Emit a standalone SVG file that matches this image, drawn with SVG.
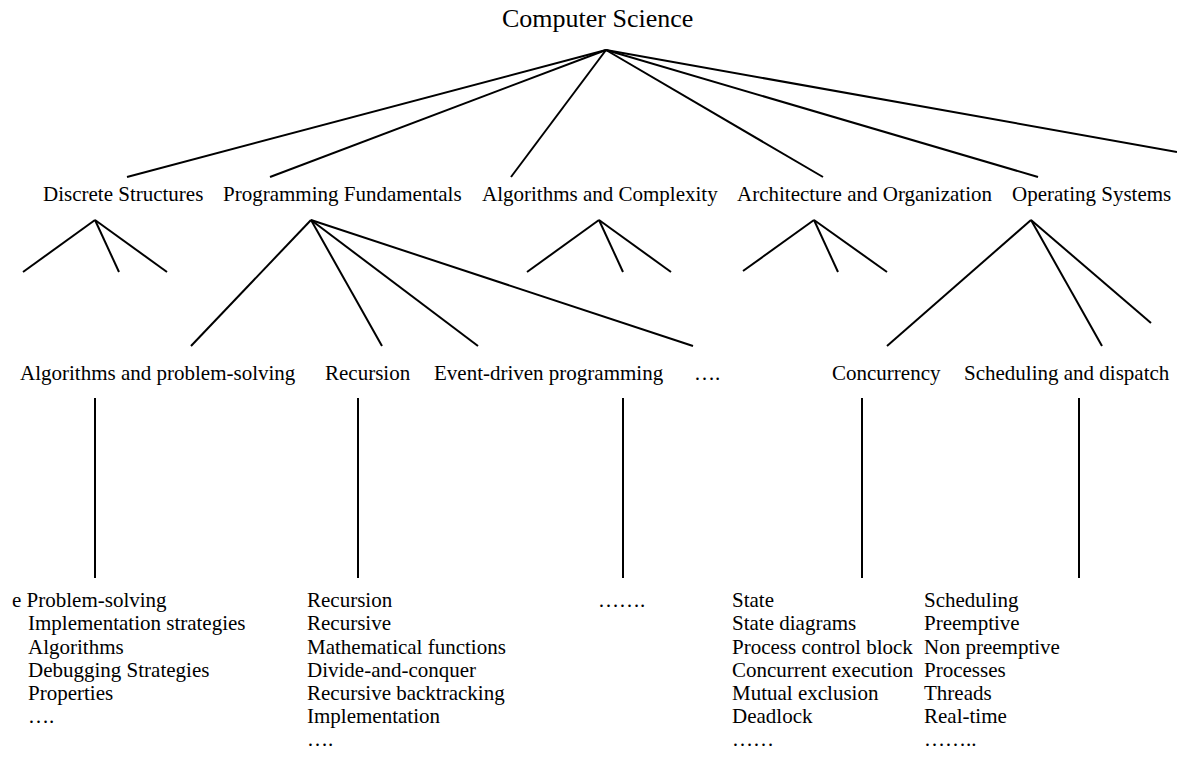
<svg xmlns="http://www.w3.org/2000/svg" width="1177" height="757" viewBox="0 0 1177 757">
<style>
text{font-family:"Liberation Serif","Times New Roman",serif;font-size:21px;fill:#000}
.title{font-size:26px}
line{stroke:#000;stroke-width:2;stroke-linecap:butt}
</style>
<rect width="1177" height="757" fill="#fff"/>
<g id="connectors">
<line x1="606" y1="50" x2="127" y2="177"/>
<line x1="606" y1="50" x2="270" y2="177"/>
<line x1="606" y1="50" x2="511" y2="177"/>
<line x1="606" y1="50" x2="823" y2="177"/>
<line x1="606" y1="50" x2="1038" y2="177"/>
<line x1="606" y1="50" x2="1177" y2="152"/>
<line x1="95" y1="220" x2="23" y2="272"/>
<line x1="95" y1="220" x2="119" y2="272"/>
<line x1="95" y1="220" x2="167" y2="272"/>
<line x1="311" y1="220" x2="191" y2="346"/>
<line x1="311" y1="220" x2="382" y2="346"/>
<line x1="311" y1="220" x2="478" y2="346"/>
<line x1="311" y1="220" x2="693" y2="346"/>
<line x1="599" y1="220" x2="527" y2="272"/>
<line x1="599" y1="220" x2="623" y2="272"/>
<line x1="599" y1="220" x2="671" y2="272"/>
<line x1="814" y1="220" x2="743" y2="271"/>
<line x1="814" y1="220" x2="838" y2="272"/>
<line x1="814" y1="220" x2="887" y2="272"/>
<line x1="1031" y1="220" x2="887" y2="346"/>
<line x1="1031" y1="220" x2="1102" y2="346"/>
<line x1="1031" y1="220" x2="1151" y2="323"/>
<line x1="95" y1="398" x2="95" y2="578"/>
<line x1="358" y1="398" x2="358" y2="578"/>
<line x1="623" y1="398" x2="623" y2="578"/>
<line x1="862" y1="398" x2="862" y2="578"/>
<line x1="1079" y1="398" x2="1079" y2="578"/>
</g>
<g id="n-cs"><text class="title" x="502" y="27">Computer Science</text></g>
<g id="n-ds"><text x="43" y="201">Discrete Structures</text></g>
<g id="n-pf"><text x="223" y="201">Programming Fundamentals</text></g>
<g id="n-ac"><text x="482" y="201">Algorithms and Complexity</text></g>
<g id="n-ao"><text x="737" y="201">Architecture and Organization</text></g>
<g id="n-os"><text x="1012" y="201">Operating Systems</text></g>
<g id="n-aps"><text x="20" y="380">Algorithms and problem-solving</text></g>
<g id="n-rec"><text x="325" y="380">Recursion</text></g>
<g id="n-edp"><text x="434" y="380">Event-driven programming</text></g>
<g id="n-more"><text x="694" y="380">….</text></g>
<g id="n-conc"><text x="832" y="380">Concurrency</text></g>
<g id="n-sched"><text x="964" y="380">Scheduling and dispatch</text></g>
<g id="l-aps">
<text x="12" y="607">e Problem-solving</text>
<text x="28" y="630">Implementation strategies</text>
<text x="28" y="653.5">Algorithms</text>
<text x="28" y="677">Debugging Strategies</text>
<text x="28" y="700">Properties</text>
<text x="28" y="723">….</text>
</g>
<g id="l-rec">
<text x="307" y="607">Recursion</text>
<text x="307" y="630">Recursive</text>
<text x="307" y="653.5">Mathematical functions</text>
<text x="307" y="677">Divide-and-conquer</text>
<text x="307" y="700">Recursive backtracking</text>
<text x="307" y="723">Implementation</text>
<text x="307" y="746">….</text>
</g>
<g id="l-edp"><text x="598" y="607">…….</text></g>
<g id="l-conc">
<text x="732" y="607">State</text>
<text x="732" y="630">State diagrams</text>
<text x="732" y="653.5">Process control block</text>
<text x="732" y="677">Concurrent execution</text>
<text x="732" y="700">Mutual exclusion</text>
<text x="732" y="723">Deadlock</text>
<text x="732" y="746">……</text>
</g>
<g id="l-sched">
<text x="924" y="607">Scheduling</text>
<text x="924" y="630">Preemptive</text>
<text x="924" y="653.5">Non preemptive</text>
<text x="924" y="677">Processes</text>
<text x="924" y="700">Threads</text>
<text x="924" y="723">Real-time</text>
<text x="924" y="746">……..</text>
</g>
</svg>
